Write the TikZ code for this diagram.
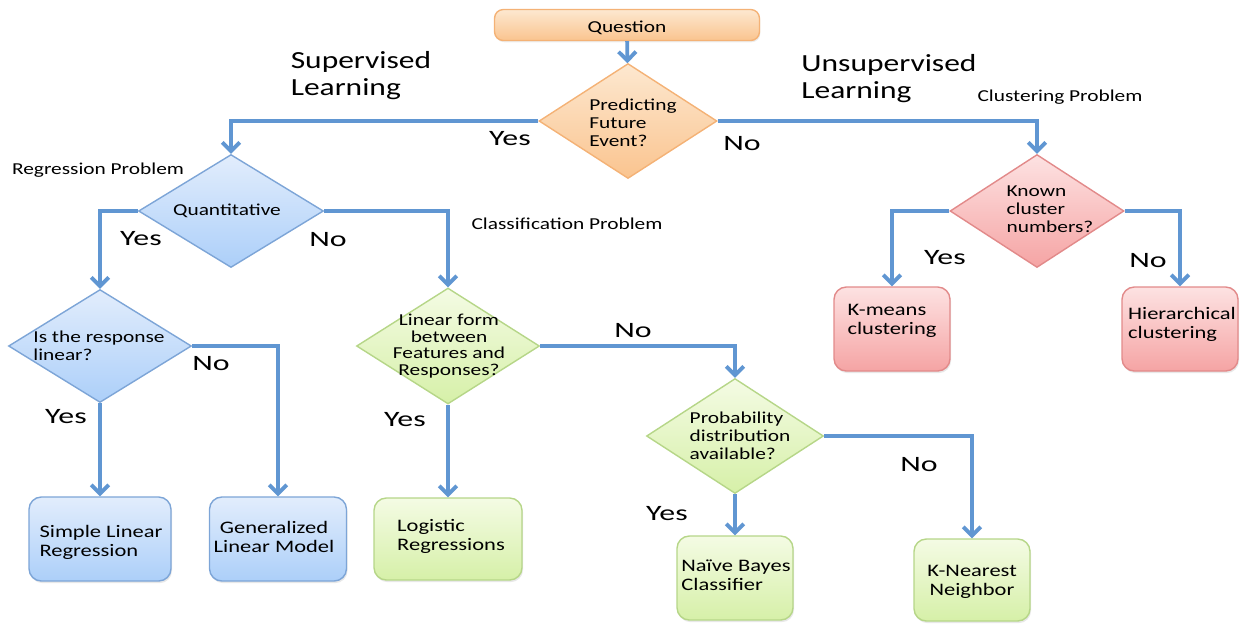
\documentclass[tikz,border=0pt]{standalone}
\usepackage{fontspec}
\setmainfont{Carlito}[FakeStretch=1.28]
\newfontfamily\answerfont{Carlito}[FakeStretch=1.45]
\usepackage{tikz}
\usetikzlibrary{shapes.geometric, arrows.meta, shadows}
\definecolor{linkblue}{RGB}{96,150,210}
\definecolor{orgtop}{RGB}{253,232,208}
\definecolor{orgbot}{RGB}{250,196,143}
\definecolor{orgedge}{RGB}{244,178,118}
\definecolor{bluetop}{RGB}{226,237,252}
\definecolor{bluebot}{RGB}{172,207,249}
\definecolor{blueedge}{RGB}{125,165,215}
\definecolor{grntop}{RGB}{244,251,228}
\definecolor{grnbot}{RGB}{214,240,168}
\definecolor{grnedge}{RGB}{182,214,136}
\definecolor{pnktop}{RGB}{253,226,226}
\definecolor{pnkbot}{RGB}{245,164,164}
\definecolor{pnkedge}{RGB}{226,138,138}
\tikzset{flow/.style={draw=linkblue, line width=2.2pt, -{Straight Barb[length=5pt, width=10pt]}}}
\tikzset{dia/.style={diamond, draw, line width=0.8pt, inner sep=0pt, minimum width=3.6cm, minimum height=2.3cm}}
\tikzset{box/.style={rectangle, draw, line width=0.8pt, rounded corners=7pt, minimum width=2.32cm, minimum height=1.68cm,
  drop shadow={opacity=0.18, shadow xshift=0.6pt, shadow yshift=-1.2pt}}}
\tikzset{orgfill/.style={top color=orgtop, bottom color=orgbot, draw=orgedge}}
\tikzset{bluefill/.style={top color=bluetop, bottom color=bluebot, draw=blueedge}}
\tikzset{grnfill/.style={top color=grntop, bottom color=grnbot, draw=grnedge}}
\tikzset{pnkfill/.style={top color=pnktop, bottom color=pnkbot, draw=pnkedge}}
\tikzset{txt/.style={font=\fontsize{9.5}{10.3}\selectfont, inner sep=0pt}}
\tikzset{boxtxt/.style={font=\fontsize{10}{10.8}\selectfont, inner sep=0pt}}
\tikzset{answer/.style={font=\answerfont\fontsize{12.5}{14}\selectfont}}
\tikzset{branch/.style={font=\fontsize{14}{15.4}\selectfont, align=left}}
\tikzset{problem/.style={font=\fontsize{9.5}{11}\selectfont}}

\begin{document}
\begin{tikzpicture}[x=0.02cm, y=-0.02cm]
    \useasboundingbox (0,0) rectangle (1241,623);

    \node[rectangle,
    orgfill,
    line width=0.8pt,
    rounded corners=5pt,
    minimum width=5.3cm,
    minimum height=0.62cm,
    text height=9pt,
    text depth=0pt,
    drop shadow={opacity=0.15, shadow xshift=0.5pt, shadow yshift=-1pt},
    font=\fontsize{9.5}{11}\selectfont] (q) at (627,25) {Question};

    \node[dia, orgfill, minimum width=3.56cm] (pred) at (628,121) {};
    \node[txt, align=left] (predtxt) at (633,123) {Predicting\\Future\\Event?};

    \node[dia, bluefill, minimum width=3.7cm, minimum height=2.26cm] (quant) at (231,211) {};
    \node[txt] (quanttxt) at (227,211) {Quantitative};

    \node[dia, bluefill, minimum width=3.66cm, minimum height=2.26cm] (resp) at (100,346) {};
    \node[txt, align=left] (resptxt) at (99,346) {Is the response\\linear?};

    \node[dia, grnfill, minimum width=3.66cm, minimum height=2.32cm] (linf) at (448,346) {};
    \node[txt, align=center, font=\fontsize{9.5}{9.4}\selectfont] (linftxt) at (449,346) {Linear form\\between\\Features and\\Responses?};

    \node[dia, grnfill, minimum width=3.54cm] (prob) at (735,436) {};
    \node[txt, align=left] (probtxt) at (740,436) {Probability\\distribution\\available?};

    \node[dia, pnkfill, minimum width=3.48cm, minimum height=2.26cm] (known) at (1037,211) {};
    \node[txt, align=left] (knowntxt) at (1050,209) {Known\\cluster\\numbers?};

    \node[box, bluefill, minimum width=2.84cm] (slr) at (100,539) {};
    \node[boxtxt, align=left] (slrtxt) at (101,542) {Simple Linear\\Regression};
    \node[box, bluefill, minimum width=2.74cm] (glm) at (278,539) {};
    \node[boxtxt, align=center] (glmtxt) at (274,537) {Generalized\\Linear Model};

    \node[box, grnfill, minimum width=2.96cm, minimum height=1.64cm] (logi) at (448,539) {};
    \node[boxtxt, align=left] (logitxt) at (451,536) {Logistic\\Regressions};
    \node[box, grnfill] (nb) at (735,578) {};
    \node[boxtxt, align=left] (nbtxt) at (736,575) {Naïve Bayes\\Classifier};
    \node[box, grnfill, minimum height=1.64cm] (knn) at (972,580) {};
    \node[boxtxt, align=center] (knntxt) at (972,582) {K-Nearest\\Neighbor};

    \node[box, pnkfill] (kmeans) at (892,329) {};
    \node[boxtxt, align=left] (kmeanstxt) at (892,321) {K-means\\clustering};
    \node[box, pnkfill] (hier) at (1180,329) {};
    \node[boxtxt, align=left] (hiertxt) at (1182,324) {Hierarchical\\clustering};

    \draw [flow] (q) -- (pred);
    \draw [flow] (pred.west) -| (quant.north);
    \draw [flow] (pred.east) -| (known.north);
    \draw [flow] (quant.west) -| (resp.north);
    \draw [flow] (quant.east) -| (linf.north);
    \draw [flow] (resp.east) -| (glm.north);
    \draw [flow] (resp.south) -- (slr.north);
    \draw [flow] (linf.east) -| (prob.north);
    \draw [flow] (linf.south) -- (logi.north);
    \draw [flow] (prob.east) -| (knn.north);
    \draw [flow] (prob.south) -- (nb.north);
    \draw [flow] (known.west) -| (kmeans.north);
    \draw [flow] (known.east) -| (hier.north);

    \node[branch] (sup) at (361,76) {Supervised\\Learning};
    \node[branch] (unsup) at (889,79) {Unsupervised\\Learning};
    \node[problem] (clus) at (1060,97) {Clustering Problem};
    \node[problem] (regr) at (98,170) {Regression Problem};
    \node[problem] (clas) at (567,224) {Classification Problem};

    \node[answer] (y1) at (510,139) {Yes};
    \node[answer] (n1) at (742,144) {No};
    \node[answer] (y2) at (141,239) {Yes};
    \node[answer] (n2) at (328,240) {No};
    \node[answer] (y3) at (66,417) {Yes};
    \node[answer] (n3) at (211,364) {No};
    \node[answer] (y4) at (405,420) {Yes};
    \node[answer] (n4) at (633,331) {No};
    \node[answer] (y5) at (667,514) {Yes};
    \node[answer] (n5) at (919,465) {No};
    \node[answer] (y6) at (945,258) {Yes};
    \node[answer] (n6) at (1148,261) {No};
\end{tikzpicture}
\end{document}
